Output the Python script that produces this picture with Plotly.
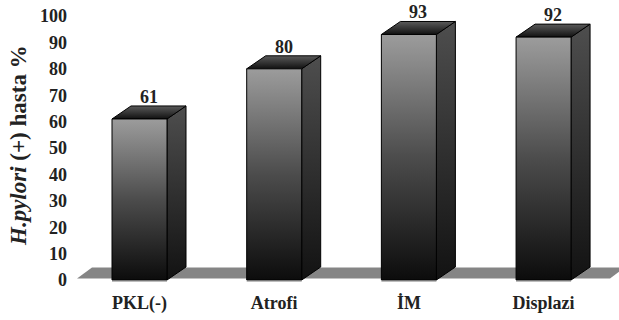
import plotly.graph_objects as go

# Data
categories = ["PKL(-)", "Atrofi", "İM", "Displazi"]
values = [61, 80, 93, 92]
y_ticks = list(range(0, 101, 10))

# Figure geometry (pixels)
W, H = 619, 320
M_L, M_R, M_T, M_B = 70, 0, 8, 38
PLOT_W = W - M_L - M_R
PLOT_H = H - M_T - M_B

X_RANGE = [-0.516, 3.560]
Y_RANGE = [-0.758, 103.03]
PX_PER_X = PLOT_W / (X_RANGE[1] - X_RANGE[0])
PX_PER_Y = PLOT_H / (Y_RANGE[1] - Y_RANGE[0])

# 3D look: bar front half-width and extrusion depth, in pixels -> data units
HALF_W = 27.5 / PX_PER_X
DEPTH_X = 19 / PX_PER_X
DEPTH_Y = 13 / PX_PER_Y
FLOOR_DX = 15 / PX_PER_X
FLOOR_DY = 11 / PX_PER_Y

FONT = "Liberation Serif"
TEXT_COLOR = "#222222"

fig = go.Figure()


def poly(xs, ys, scale, line_w=1.0):
    fig.add_trace(go.Scatter(
        x=xs + [xs[0]], y=ys + [ys[0]],
        mode="lines", fill="toself",
        fillgradient=dict(type="vertical", colorscale=scale),
        line=dict(color="#000000", width=line_w),
        hoverinfo="skip", showlegend=False,
    ))


# Floor plane
fx0 = X_RANGE[0] + 7 / PX_PER_X
fx1 = X_RANGE[0] + 540 / PX_PER_X
fy = 0.6
fig.add_trace(go.Scatter(
    x=[fx0, fx1, fx1 + FLOOR_DX, fx0 + FLOOR_DX, fx0],
    y=[fy, fy, fy + FLOOR_DY, fy + FLOOR_DY, fy],
    mode="lines", fill="toself", fillcolor="#858585",
    line=dict(color="#858585", width=0),
    hoverinfo="skip", showlegend=False,
))

front_scale = [[0, "#0c0c0c"], [0.5, "#4c4c4c"], [1, "#9c9c9c"]]
side_scale = [[0, "#121212"], [1, "#4e4e4e"]]
top_scale = [[0, "#111111"], [1, "#5a5a5a"]]

for i, v in enumerate(values):
    xl, xr = i - HALF_W, i + HALF_W
    # light edge under the bar
    fig.add_trace(go.Scatter(
        x=[xl, xr], y=[-0.55, -0.55], mode="lines",
        line=dict(color="#bdbdbd", width=1.5),
        hoverinfo="skip", showlegend=False,
    ))
    # right side face
    poly([xr, xr + DEPTH_X, xr + DEPTH_X, xr],
         [0, DEPTH_Y, v + DEPTH_Y, v], side_scale)
    # top face
    poly([xl, xr, xr + DEPTH_X, xl + DEPTH_X],
         [v, v, v + DEPTH_Y, v + DEPTH_Y], top_scale)
    # front face
    poly([xl, xr, xr, xl], [0, 0, v, v], front_scale)
    # value label
    fig.add_annotation(
        x=i + DEPTH_X / 2, y=v + DEPTH_Y, text=f"<b>{v}</b>",
        showarrow=False, yanchor="bottom", yshift=-3,
        font=dict(family=FONT, size=18, color=TEXT_COLOR),
    )

# Y axis title
fig.add_annotation(
    xref="paper", yref="paper",
    x=(19 - M_L) / PLOT_W, y=(M_T + PLOT_H - 146) / PLOT_H,
    text="<b><i>H.pylori</i> (+) hasta %</b>",
    textangle=-90, showarrow=False, xanchor="center", yanchor="middle",
    font=dict(family=FONT, size=23, color=TEXT_COLOR),
)

fig.update_layout(
    width=W, height=H,
    margin=dict(l=M_L, r=M_R, t=M_T, b=M_B),
    paper_bgcolor="white", plot_bgcolor="white",
    xaxis=dict(
        range=X_RANGE, showgrid=False, zeroline=False, showline=False,
        tickmode="array", tickvals=list(range(len(categories))),
        ticktext=[f"<b>{c}</b>" for c in categories],
        tickfont=dict(family=FONT, size=18, color=TEXT_COLOR),
        ticks="", ticklabelstandoff=8,
    ),
    yaxis=dict(
        range=Y_RANGE, showgrid=False, zeroline=False, showline=False,
        tickmode="array", tickvals=y_ticks,
        ticktext=[f"<b>{t}</b>" for t in y_ticks],
        tickfont=dict(family=FONT, size=18, color=TEXT_COLOR),
        ticks="", ticklabelstandoff=2,
    ),
)

fig.write_html("out.html")
